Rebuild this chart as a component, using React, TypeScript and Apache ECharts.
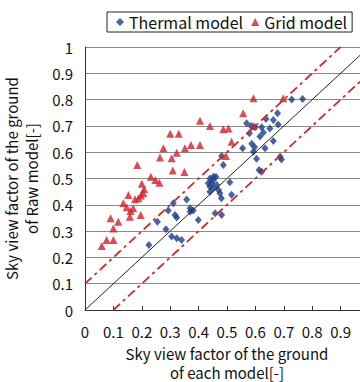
import React, { useEffect, useRef } from 'react';
import * as echarts from 'echarts';

const thermalX = [0.728, 0.766, 0.678, 0.637, 0.663, 0.569, 0.68, 0.585, 0.599, 0.622, 0.651, 0.579, 0.628, 0.616, 0.663, 0.555, 0.587, 0.597, 0.634, 0.593, 0.481, 0.604, 0.687, 0.692, 0.487, 0.613, 0.622, 0.452, 0.461, 0.44, 0.452, 0.434, 0.446, 0.51, 0.44, 0.464, 0.452, 0.47, 0.44, 0.475, 0.516, 0.48, 0.358, 0.311, 0.37, 0.381, 0.37, 0.293, 0.458, 0.481, 0.317, 0.323, 0.399, 0.255, 0.285, 0.305, 0.323, 0.34, 0.225];
const thermalY = [0.8, 0.802, 0.748, 0.726, 0.722, 0.71, 0.705, 0.7, 0.695, 0.695, 0.69, 0.672, 0.675, 0.66, 0.643, 0.615, 0.632, 0.62, 0.615, 0.602, 0.586, 0.575, 0.583, 0.572, 0.551, 0.532, 0.526, 0.507, 0.507, 0.5, 0.494, 0.482, 0.482, 0.486, 0.469, 0.475, 0.463, 0.456, 0.45, 0.444, 0.438, 0.425, 0.42, 0.406, 0.387, 0.378, 0.374, 0.378, 0.368, 0.361, 0.361, 0.352, 0.342, 0.336, 0.307, 0.279, 0.273, 0.266, 0.247];

const gridX = [0.593, 0.698, 0.557, 0.405, 0.44, 0.593, 0.3, 0.33, 0.487, 0.505, 0.516, 0.276, 0.352, 0.373, 0.405, 0.323, 0.264, 0.305, 0.496, 0.184, 0.309, 0.35, 0.232, 0.248, 0.262, 0.2, 0.208, 0.205, 0.197, 0.153, 0.176, 0.188, 0.135, 0.147, 0.16, 0.17, 0.196, 0.09, 0.117, 0.158, 0.1, 0.076, 0.1, 0.059];
const gridY = [0.805, 0.805, 0.748, 0.72, 0.7, 0.7, 0.67, 0.67, 0.687, 0.69, 0.64, 0.615, 0.615, 0.627, 0.627, 0.598, 0.58, 0.577, 0.586, 0.551, 0.53, 0.525, 0.507, 0.494, 0.484, 0.48, 0.46, 0.444, 0.435, 0.437, 0.421, 0.425, 0.406, 0.391, 0.376, 0.387, 0.361, 0.349, 0.336, 0.355, 0.31, 0.266, 0.266, 0.243];

const identityX = [0, 1];
const identityY = [0, 1];
const upperX = [0, 0.9];
const upperY = [0.1, 1];
const lowerX = [0.1, 1];
const lowerY = [0, 0.9];

const seriesNames = ['Thermal model', 'Grid model'];
const xAxisTitle = 'Sky view factor of the ground\nof each model[-]';
const yAxisTitle = 'Sky view factor of the ground\nof Raw model[-]';

const FONT = '"Noto Sans CJK JP", "Noto Sans", sans-serif';
const zip = (xs: number[], ys: number[]) => xs.map((x, i) => [x, ys[i]]);
const fmt = (v: number) => (v === 0 ? '0' : v === 1 ? '1' : v.toFixed(1));

export default function App() {
  const ref = useRef<HTMLDivElement>(null);
  useEffect(() => {
    document.body.style.margin = '0';
    const chart = echarts.init(ref.current!, null, { renderer: 'svg' });
    const dashRed = { color: '#cc2a2a', width: 1.8, type: [9, 4, 3, 4] };
    chart.setOption({
      animation: false,
      backgroundColor: '#fff',
      textStyle: { fontFamily: FONT },
      legend: {
        data: seriesNames,
        left: 107,
        top: 12,
        borderColor: '#222',
        borderWidth: 1,
        padding: [2, 5, 2, 9],
        itemWidth: 8,
        itemHeight: 8,
        itemGap: 8,
        textStyle: { fontSize: 16, color: '#111', fontFamily: FONT },
      },
      grid: { left: 85, top: 47, width: 284, height: 263, outerBoundsMode: 'none', containLabel: false },
      xAxis: {
        type: 'value',
        min: 0,
        max: 1,
        interval: 0.1,
        axisLine: { lineStyle: { color: '#333', width: 1 } },
        axisTick: { show: true, inside: true, length: 4, lineStyle: { color: '#333' } },
        splitLine: { show: false },
        axisLabel: { fontSize: 15, color: '#111', margin: 14, fontFamily: FONT, formatter: fmt },
        name: xAxisTitle,
        nameLocation: 'middle',
        nameGap: 34,
        nameTextStyle: { fontSize: 15, color: '#111', lineHeight: 19, fontFamily: FONT },
      },
      yAxis: {
        type: 'value',
        min: 0,
        max: 1,
        interval: 0.1,
        axisLine: { show: true, lineStyle: { color: '#333', width: 1 } },
        axisTick: { show: false },
        splitLine: { show: true, lineStyle: { color: '#8a8a8a', width: 1 } },
        axisLabel: { fontSize: 15, color: '#111', margin: 12, fontFamily: FONT, formatter: fmt },
        name: yAxisTitle,
        nameLocation: 'middle',
        nameGap: 36,
        nameTextStyle: { fontSize: 15, color: '#111', lineHeight: 20, fontFamily: FONT },
      },
      series: [
        {
          type: 'line',
          data: zip(identityX, identityY),
          symbol: 'none',
          lineStyle: { color: '#222', width: 1 },
          silent: true,
        },
        {
          type: 'line',
          data: zip(upperX, upperY),
          symbol: 'none',
          lineStyle: dashRed,
          silent: true,
        },
        {
          type: 'line',
          data: zip(lowerX, lowerY),
          symbol: 'none',
          lineStyle: dashRed,
          silent: true,
        },
        {
          name: seriesNames[0],
          type: 'scatter',
          data: zip(thermalX, thermalY),
          symbol: 'diamond',
          symbolSize: [7, 8],
          itemStyle: { color: '#1d3c88' },
        },
        {
          name: seriesNames[1],
          type: 'scatter',
          data: zip(gridX, gridY),
          symbol: 'triangle',
          symbolSize: 8,
          itemStyle: { color: '#d0202c' },
        },
      ],
    });
    return () => chart.dispose();
  }, []);
  return <div ref={ref} style={{ width: 360, height: 382 }} />;
}
